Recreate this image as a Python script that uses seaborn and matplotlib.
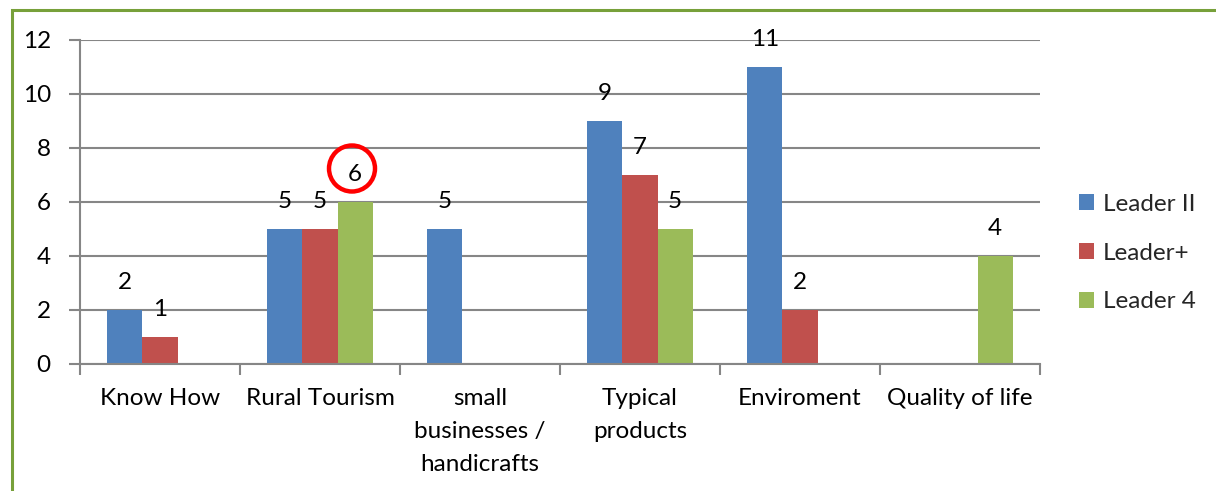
import matplotlib
matplotlib.use("Agg")
import matplotlib.pyplot as plt
from matplotlib.patches import Rectangle, Ellipse
import seaborn as sns
import pandas as pd
import numpy as np

categories = ["Know How", "Rural Tourism", "small\nbusinesses /\nhandicrafts",
              "Typical\nproducts", "Enviroment", "Quality of life"]
series = ["Leader II", "Leader+", "Leader 4"]
leader_ii = [2, 5, 5, 9, 11, 0]
leader_plus = [1, 5, 0, 7, 2, 0]
leader_4 = [0, 6, 0, 5, 0, 4]
colors = ["#4F81BD", "#C0504D", "#9BBB59"]
y_ticks = [0, 2, 4, 6, 8, 10, 12]

rows = []
for s, vals in zip(series, [leader_ii, leader_plus, leader_4]):
    for c, v in zip(categories, vals):
        rows.append({"category": c, "series": s, "value": v})
df = pd.DataFrame(rows)

sns.set_theme(style="white")
plt.rcParams["font.family"] = ["Lato", "DejaVu Sans"]
FS = 17.5

fig = plt.figure(figsize=(12.16, 4.91), dpi=100)
ax = fig.add_axes([80/1216, 1-364/491, 960/1216, 324/491])

sns.barplot(data=df, x="category", y="value", hue="series", order=categories,
            hue_order=series, palette=colors, saturation=1, width=0.66,
            gap=0, linewidth=0, ax=ax, errorbar=None)

# value labels
for cont in ax.containers:
    for bar in cont:
        h = bar.get_height()
        if h and h > 0:
            ax.annotate(f"{int(h)}", (bar.get_x() + bar.get_width()/2, h),
                        xytext=(0, 19.5), textcoords="offset points",
                        ha="center", va="center", fontsize=FS, color="black")

ax.set_xlim(-0.5, 5.5)
ax.set_ylim(0, 12)
ax.set_yticks(y_ticks)
ax.set_yticklabels([str(t) for t in y_ticks], fontsize=FS)
ax.set_xticks(range(len(categories)))
ax.set_xticklabels(categories, fontsize=FS, linespacing=1.72, va="top")
ax.set_xticks(np.arange(-0.5, 6.0, 1.0), minor=True)
ax.tick_params(axis="x", which="major", length=0, pad=17, colors="black")
ax.tick_params(axis="x", which="minor", length=8, width=1.5, color="#868686", direction="out", bottom=True)
ax.tick_params(axis="y", which="major", length=8, width=1.5, color="#868686", direction="out", left=True, pad=13, labelcolor="black")
ax.set_xlabel("")
ax.set_ylabel("")
ax.grid(axis="y", color="#868686", linewidth=1.5)
ax.set_axisbelow(True)
for side in ["top", "right"]:
    ax.spines[side].set_visible(False)
for side in ["left", "bottom"]:
    ax.spines[side].set_color("#868686")
    ax.spines[side].set_linewidth(1.5)

# legend
handles, labels = ax.get_legend_handles_labels()
ax.legend(handles, labels, loc="center left", bbox_to_anchor=(1079/1216, 1-253/491),
          bbox_transform=fig.transFigure, frameon=False, fontsize=FS, borderpad=0,
          borderaxespad=0, handlelength=0.62, handleheight=0.62, handletextpad=0.35,
          labelspacing=1.15)

# red circle highlight
ax.add_patch(Ellipse((1.2, (364-168.5)/27), width=46/160, height=46/27,
                     fill=False, edgecolor="#FF0000", linewidth=3.2, clip_on=False))

# green frame
fig.patches.append(Rectangle((12/1216, -0.5), 2.0, 0.5 + 1 - 10/491,
                             transform=fig.transFigure, fill=False,
                             edgecolor="#77A03A", linewidth=2.2))

fig.savefig("out.png", dpi=100)
